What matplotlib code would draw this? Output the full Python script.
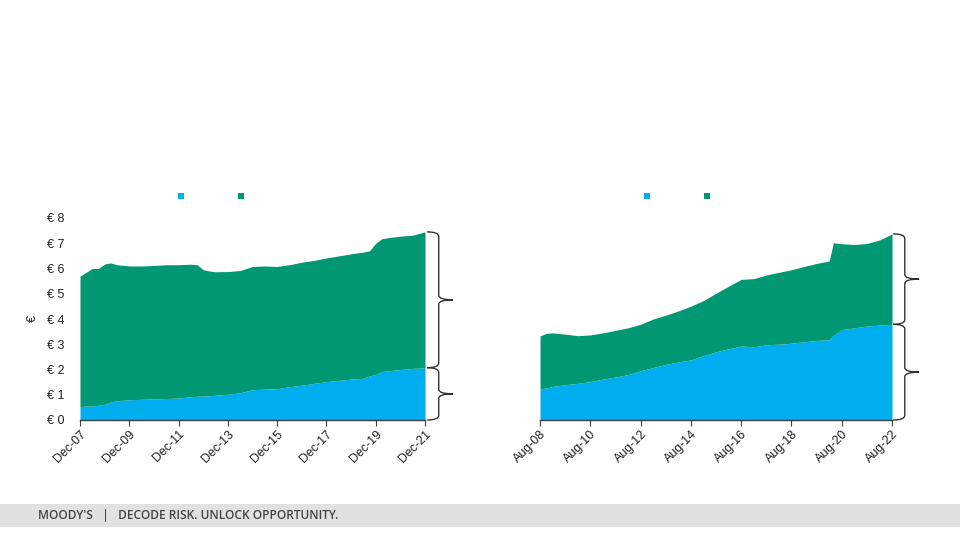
import matplotlib
matplotlib.use("Agg")
import matplotlib.pyplot as plt
import matplotlib.dates as mdates
import matplotlib.transforms as mtransforms
from matplotlib.path import Path
from matplotlib.patches import PathPatch, Rectangle
import numpy as np
import pandas as pd

# ---- data ----
left_dates = ["Dec-07", "Mar-08", "Jun-08", "Sep-08", "Dec-08", "Mar-09", "Jun-09", "Dec-09",
              "Jun-10", "Dec-10", "Jun-11", "Dec-11", "Jun-12", "Sep-12", "Dec-12", "Mar-13",
              "Jun-13", "Dec-13", "Jun-14", "Dec-14", "Jun-15", "Dec-15", "Jun-16", "Dec-16",
              "Jun-17", "Dec-17", "Jun-18", "Dec-18", "Jun-19", "Sep-19", "Dec-19", "Mar-20",
              "Jun-20", "Dec-20", "Jun-21", "Dec-21"]
left_blue = [0.53, 0.55, 0.56, 0.58, 0.62, 0.72, 0.76, 0.80,
             0.82, 0.84, 0.85, 0.87, 0.92, 0.94, 0.95, 0.96,
             0.98, 1.02, 1.08, 1.20, 1.22, 1.24, 1.32, 1.38,
             1.45, 1.52, 1.57, 1.62, 1.65, 1.75, 1.80, 1.92,
             1.95, 2.00, 2.04, 2.07]
left_total = [5.70, 5.85, 6.00, 6.00, 6.18, 6.22, 6.15, 6.10,
              6.10, 6.12, 6.15, 6.15, 6.17, 6.15, 5.95, 5.90,
              5.87, 5.88, 5.92, 6.08, 6.10, 6.08, 6.15, 6.25,
              6.32, 6.42, 6.50, 6.58, 6.65, 6.70, 7.00, 7.18,
              7.22, 7.28, 7.32, 7.45]
left_ticks = ["Dec-07", "Dec-09", "Dec-11", "Dec-13", "Dec-15", "Dec-17", "Dec-19", "Dec-21"]

right_dates = ["Aug-08", "Nov-08", "Feb-09", "Aug-09", "Feb-10", "Aug-10", "Feb-11", "Aug-11",
               "Feb-12", "Aug-12", "Feb-13", "Aug-13", "Feb-14", "Aug-14", "Feb-15", "Aug-15",
               "Feb-16", "Aug-16", "Feb-17", "Aug-17", "Feb-18", "Aug-18", "Feb-19", "Aug-19",
               "Feb-20", "Apr-20", "Aug-20", "Feb-21", "Aug-21", "Feb-22", "Aug-22"]
right_blue = [1.23, 1.27, 1.33, 1.40, 1.45, 1.52, 1.62, 1.70,
              1.80, 1.95, 2.08, 2.20, 2.30, 2.38, 2.55, 2.70,
              2.82, 2.93, 2.90, 2.98, 3.00, 3.04, 3.10, 3.15,
              3.18, 3.35, 3.58, 3.65, 3.72, 3.76, 3.79]
right_total = [3.33, 3.43, 3.45, 3.40, 3.34, 3.37, 3.45, 3.55,
               3.65, 3.79, 4.00, 4.15, 4.32, 4.51, 4.73, 5.02,
               5.30, 5.57, 5.60, 5.74, 5.85, 5.95, 6.08, 6.20,
               6.30, 7.02, 6.98, 6.95, 6.99, 7.13, 7.37]
right_ticks = ["Aug-08", "Aug-10", "Aug-12", "Aug-14", "Aug-16", "Aug-18", "Aug-20", "Aug-22"]

y_ticks = [0, 1, 2, 3, 4, 5, 6, 7, 8]
y_ticklabels = ["€ %d" % v for v in y_ticks]

BLUE = "#00AEEF"
GREEN = "#009872"
AXIS = "#404040"

plt.rcParams["font.family"] = ["Liberation Sans", "DejaVu Sans"]

fig = plt.figure(figsize=(9.6, 5.4), dpi=100)


def brace(ax, y_bot, y_top, x0, w):
    # curly brace opening to the left, tip pointing right
    tr = mtransforms.blended_transform_factory(ax.transAxes, ax.transData)
    ym = (y_bot + y_top) / 2
    xv = x0 + w * 0.45
    h = 0.18
    verts = [(x0, y_top), (xv, y_top), (xv, y_top - h),
             (xv, ym + h), (xv, ym), (x0 + w, ym),
             (xv, ym), (xv, ym - h),
             (xv, y_bot + h), (xv, y_bot), (x0, y_bot)]
    codes = [Path.MOVETO, Path.CURVE3, Path.CURVE3,
             Path.LINETO, Path.CURVE3, Path.CURVE3,
             Path.CURVE3, Path.CURVE3,
             Path.LINETO, Path.CURVE3, Path.CURVE3]
    ax.add_patch(PathPatch(Path(verts, codes), transform=tr, fill=False,
                           edgecolor="#333333", lw=1.0, clip_on=False))


def panel(rect, dates, blue, total, ticks, show_y, legend_x, brace_x, brace_w):
    ax = fig.add_axes(rect)
    d = pd.to_datetime(dates, format="%b-%y")
    blue = np.array(blue)
    total = np.array(total)
    ax.fill_between(d, 0, blue, color=BLUE, lw=0)
    ax.fill_between(d, blue, total, color=GREEN, lw=0)
    ax.set_xlim(d[0], d[-1])
    ax.set_ylim(0, 8)
    tk = pd.to_datetime(ticks, format="%b-%y")
    ax.set_xticks(tk)
    ax.xaxis.set_major_formatter(mdates.DateFormatter("%b-%y"))
    for lab in ax.get_xticklabels():
        lab.set_rotation(45)
        lab.set_ha("right")
        lab.set_rotation_mode("anchor")
    ax.tick_params(axis="x", length=4, color=AXIS, labelsize=9, labelcolor="#222222", pad=2)
    for s in ["top", "right", "left"]:
        ax.spines[s].set_visible(False)
    ax.spines["bottom"].set_color(AXIS)
    ax.spines["bottom"].set_linewidth(1.0)
    if show_y:
        ax.set_yticks(y_ticks)
        ax.set_yticklabels(y_ticklabels)
        ax.tick_params(axis="y", length=0, labelsize=9, labelcolor="#222222", pad=11)
        ax.set_ylabel("€", fontsize=9, color="#222222", labelpad=6)
    else:
        ax.set_yticks([])
    # legend markers (labels not shown in the reference)
    ax.scatter(legend_x, [1.11, 1.11], transform=ax.transAxes, marker="s", s=18,
               c=[BLUE, GREEN], clip_on=False, lw=0)
    brace(ax, blue[-1], total[-1], brace_x, brace_w)
    brace(ax, 0, blue[-1], brace_x, brace_w)
    return ax


y0 = 1 - 420 / 540
hgt = (420 - 218) / 540
panel([80 / 960, y0, 345 / 960, hgt], left_dates, left_blue, left_total, left_ticks,
      True, [0.293, 0.467], 1.006, 0.075)
panel([540 / 960, y0, 352 / 960, hgt], right_dates, right_blue, right_total, right_ticks,
      False, [0.304, 0.474], 1.003, 0.074)

# footer band
fig.add_artist(Rectangle((0, 1 - 527 / 540), 1, 23 / 540, transform=fig.transFigure,
                         facecolor="#E1E1E1", edgecolor="none"))
fig.text(38 / 960, 1 - 516 / 540, "MOODY'S   |   DECODE RISK. UNLOCK OPPORTUNITY.",
         fontsize=8.6, color="#444444", va="center", ha="left",
         family=["Open Sans", "DejaVu Sans"], fontweight="semibold")

fig.savefig("out.png", dpi=100)
